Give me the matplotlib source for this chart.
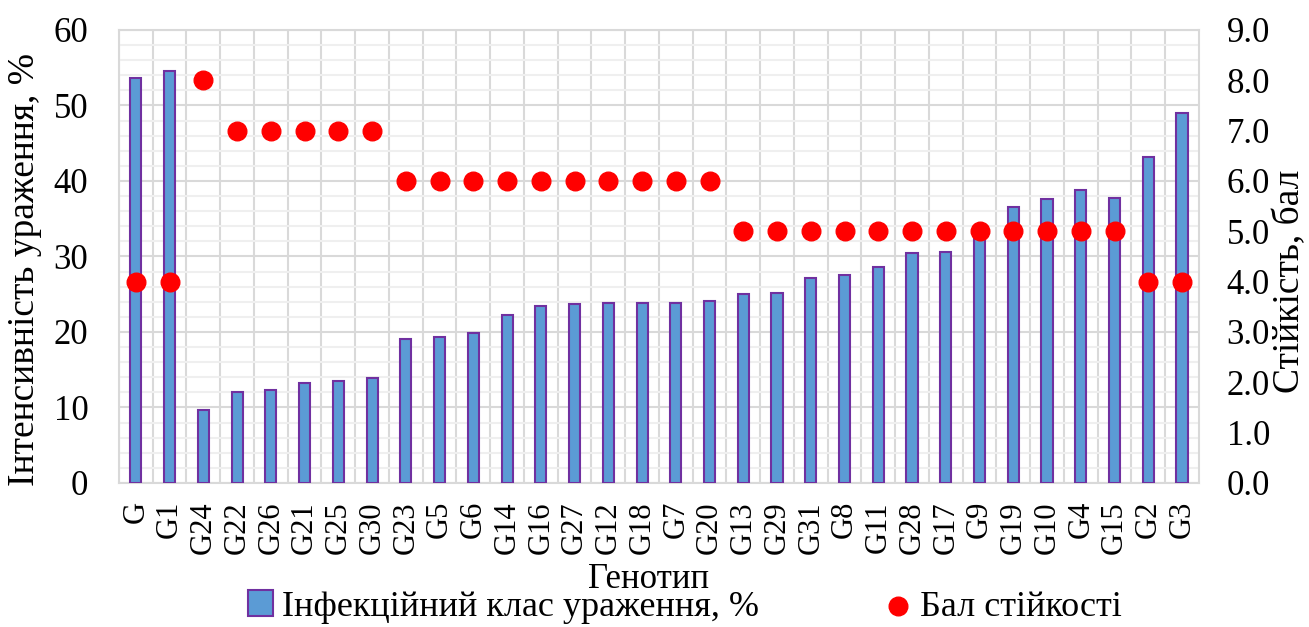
import numpy as np
import matplotlib.pyplot as plt
from matplotlib.ticker import MultipleLocator

genotypes = ['G', 'G1', 'G24', 'G22', 'G26', 'G21', 'G25', 'G30', 'G23', 'G5',
             'G6', 'G14', 'G16', 'G27', 'G12', 'G18', 'G7', 'G20', 'G13', 'G29',
             'G31', 'G8', 'G11', 'G28', 'G17', 'G9', 'G19', 'G10', 'G4', 'G15',
             'G2', 'G3']
infection = [53.6, 54.6, 9.6, 12.1, 12.3, 13.2, 13.5, 13.9, 19.1, 19.3,
             19.8, 22.3, 23.4, 23.7, 23.9, 23.9, 23.9, 24.1, 25.0, 25.2,
             27.2, 27.5, 28.6, 30.5, 30.6, 33.4, 36.5, 37.6, 38.8, 37.8,
             43.2, 49.0]
score = [4, 4, 8, 7, 7, 7, 7, 7, 6, 6,
         6, 6, 6, 6, 6, 6, 6, 6, 5, 5,
         5, 5, 5, 5, 5, 5, 5, 5, 5, 5,
         4, 4]

plt.rcParams['font.family'] = ['Liberation Serif', 'DejaVu Serif']

fig = plt.figure(figsize=(13.09, 6.27), dpi=100)
ax = fig.add_axes([0.0909, 0.2297, 0.825, 0.7225])
x = np.arange(len(genotypes))

ax.bar(x, infection, width=0.33, color='#5b9bd5', edgecolor='#7030a0',
       linewidth=1.5, zorder=3, label='Інфекційний клас ураження, %')
ax.set_xlim(-0.5, len(genotypes) - 0.5)
ax.set_ylim(0, 60)
ax.yaxis.set_major_locator(MultipleLocator(10))
ax.yaxis.set_minor_locator(MultipleLocator(2))
ax.set_xticks(x)
ax.set_xticklabels(genotypes, rotation=90, fontsize=22)
ax.set_xticks(x - 0.5, minor=True)
ax.tick_params(axis='x', which='both', length=0, pad=13)
ax.tick_params(axis='y', which='both', length=0, labelsize=25, pad=22)
ax.grid(which='major', axis='y', color='#d9d9d9', linewidth=1.5, zorder=0)
ax.grid(which='minor', axis='y', color='#efefef', linewidth=1.5, zorder=0)
ax.grid(which='minor', axis='x', color='#d9d9d9', linewidth=1.5, zorder=0)
for s in ax.spines.values():
    s.set_color('#d9d9d9')
    s.set_linewidth(1.5)
ax.set_ylabel('Інтенсивність ураження, %', fontsize=27)
ax.yaxis.set_label_coords(-0.071, 0.472)
ax.set_xlabel('Генотип', fontsize=25)
ax.xaxis.set_label_coords(0.49, -0.176)

ax2 = ax.twinx()
ax2.scatter(x, score, s=180, color='#ff0000', zorder=4, label='Бал стійкості')
ax2.set_ylim(0, 9)
ax2.set_yticks(np.arange(0, 9.5, 1))
ax2.set_yticklabels([f'{v:.1f}' for v in np.arange(0, 9.5, 1)])
ax2.tick_params(axis='y', length=0, labelsize=25, pad=20)
for s in ax2.spines.values():
    s.set_visible(False)
ax2.set_ylabel('Стійкість, бал', fontsize=27)
ax2.yaxis.set_label_coords(1.068, 0.446)

h1, l1 = ax.get_legend_handles_labels()
h2, l2 = ax2.get_legend_handles_labels()
fig.legend(h1 + h2, l1 + l2, loc='center', bbox_to_anchor=(0.523, 0.032),
           ncol=2, frameon=False, fontsize=26, columnspacing=3.5,
           handlelength=0.7, handletextpad=0.25, borderpad=0)

fig.savefig('out.png', dpi=100)
